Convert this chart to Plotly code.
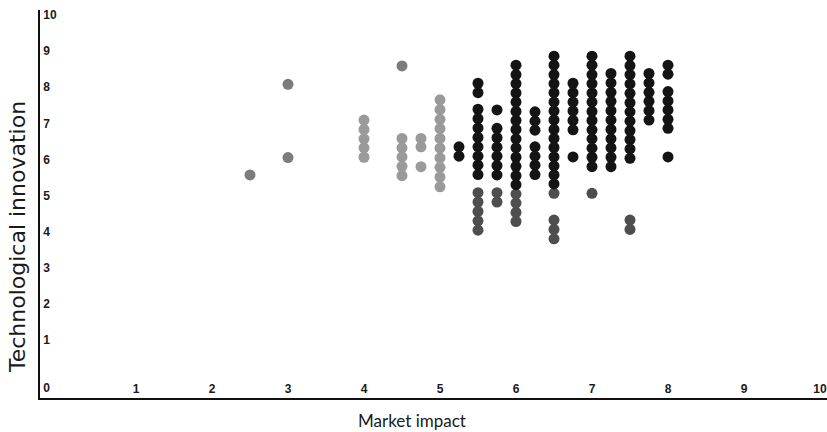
import plotly.graph_objects as go

# ---- data ----
black_x = ([5.25] * 2 + [5.5] * 10 + [5.75] * 7 + [6.0] * 14 + [6.25] * 7 + [6.5] * 15
           + [6.75] * 7 + [7.0] * 13 + [7.25] * 11 + [7.5] * 12 + [7.75] * 6 + [8.0] * 8)
black_y = [6.35, 6.09,
           8.11, 7.85, 7.39, 7.13, 6.87, 6.61, 6.35, 6.09, 5.84, 5.58,
           7.37, 6.86, 6.60, 6.34, 6.09, 5.83, 5.57,
           8.61, 8.35, 8.10, 7.84, 7.59, 7.33, 7.08, 6.83, 6.57, 6.32, 6.06, 5.81, 5.55, 5.30,
           7.32, 7.06, 6.81, 6.35, 6.09, 5.84, 5.58,
           8.86, 8.61, 8.35, 8.10, 7.85, 7.59, 7.34, 7.09, 6.83, 6.58, 6.33, 6.07, 5.82, 5.57, 5.32,
           8.11, 7.85, 7.59, 7.34, 7.08, 6.82, 6.07,
           8.86, 8.61, 8.35, 8.10, 7.84, 7.59, 7.33, 7.08, 6.82, 6.57, 6.31, 6.06, 5.80,
           8.38, 8.12, 7.86, 7.61, 7.35, 7.09, 6.83, 6.57, 6.32, 6.06, 5.80,
           8.86, 8.60, 8.35, 8.09, 7.83, 7.57, 7.32, 7.06, 6.80, 6.55, 6.29, 6.03,
           8.38, 8.12, 7.86, 7.61, 7.35, 7.09,
           8.61, 8.36, 7.88, 7.62, 7.37, 7.11, 6.86, 6.07]

dark_x = [5.5] * 5 + [5.75] * 2 + [6.0] * 4 + [6.5] * 4 + [7.0] * 1 + [7.5] * 2
dark_y = [5.08, 4.82, 4.56, 4.30, 4.04,
          5.08, 4.82,
          5.04, 4.79, 4.53, 4.28,
          5.06, 4.32, 4.06, 3.80,
          5.06,
          4.32, 4.06]

mid_x = [2.5, 3.0, 3.0, 4.5]
mid_y = [5.57, 8.08, 6.05, 8.59]

light_x = [4.0] * 5 + [4.5] * 5 + [4.75] * 3 + [5.0] * 10
light_y = [7.09, 6.83, 6.57, 6.32, 6.06,
           6.58, 6.32, 6.07, 5.81, 5.55,
           6.58, 6.35, 5.80,
           7.65, 7.38, 7.11, 6.85, 6.58, 6.31, 6.04, 5.78, 5.51, 5.24]

x_tick_labels = ["1", "2", "3", "4", "5", "6", "7", "8", "9", "10"]
y_tick_labels = ["0", "1", "2", "3", "4", "5", "6", "7", "8", "9", "10"]
x_title = "Market impact"
y_title = "Technological innovation"

# ---- figure ----
W, H = 827, 432
ML, MR, MT, MB = 40, 0, 10, 34
XR = [-0.263, 10.092]
YR = [-0.609, 10.139]

fig = go.Figure()
series = [
    (light_x, light_y, "#9a9a9a"),
    (mid_x, mid_y, "#7c7c7c"),
    (dark_x, dark_y, "#4e4e4e"),
    (black_x, black_y, "#141414"),
]
for xs, ys, col in series:
    fig.add_trace(go.Scatter(x=xs, y=ys, mode="markers",
                             marker=dict(size=11, color=col, line=dict(width=0)),
                             showlegend=False, hoverinfo="x+y", cliponaxis=False))

x_tickvals = [float(t) for t in x_tick_labels]
y_tickvals = [-0.33] + [float(t) for t in y_tick_labels[1:]]

tick_font = dict(family="Liberation Sans Narrow, Arial Narrow, Liberation Sans, sans-serif",
                 size=12, color="#1a1a1a", weight="bold")

fig.update_layout(
    width=W, height=H,
    margin=dict(l=ML, r=MR, t=MT, b=MB, pad=0),
    paper_bgcolor="white", plot_bgcolor="white",
    xaxis=dict(range=XR, showgrid=False, zeroline=False, showline=True,
               linecolor="#111", linewidth=2, ticks="",
               tickvals=x_tickvals, ticktext=x_tick_labels,
               ticklabelposition="inside", ticklabeloverflow="allow",
               ticklabelstandoff=2,
               tickfont=tick_font, fixedrange=True),
    yaxis=dict(range=YR, showgrid=False, zeroline=False, showline=True,
               linecolor="#111", linewidth=1.5, ticks="",
               tickvals=y_tickvals, ticktext=y_tick_labels,
               ticklabelposition="inside", ticklabeloverflow="allow",
               ticklabelstandoff=3,
               tickfont=tick_font, fixedrange=True),
    annotations=[
        dict(text=x_title, xref="paper", yref="paper",
             x=(412 - ML) / (W - ML - MR), y=-(420 - (H - MB)) / (H - MT - MB),
             xanchor="center", yanchor="middle", showarrow=False,
             font=dict(family="Lato, Open Sans, sans-serif", size=17, color="#1a1a1a")),
        dict(text=y_title, xref="paper", yref="paper",
             x=-(ML - 18) / (W - ML - MR), y=(H - MB - 237) / (H - MT - MB),
             xanchor="center", yanchor="middle", showarrow=False, textangle=-90,
             font=dict(family="DejaVu Sans, sans-serif", size=22, color="#1a1a1a")),
    ],
)

fig.write_html("out.html", config={"displayModeBar": False},
               post_script="document.body.style.margin='0';")
